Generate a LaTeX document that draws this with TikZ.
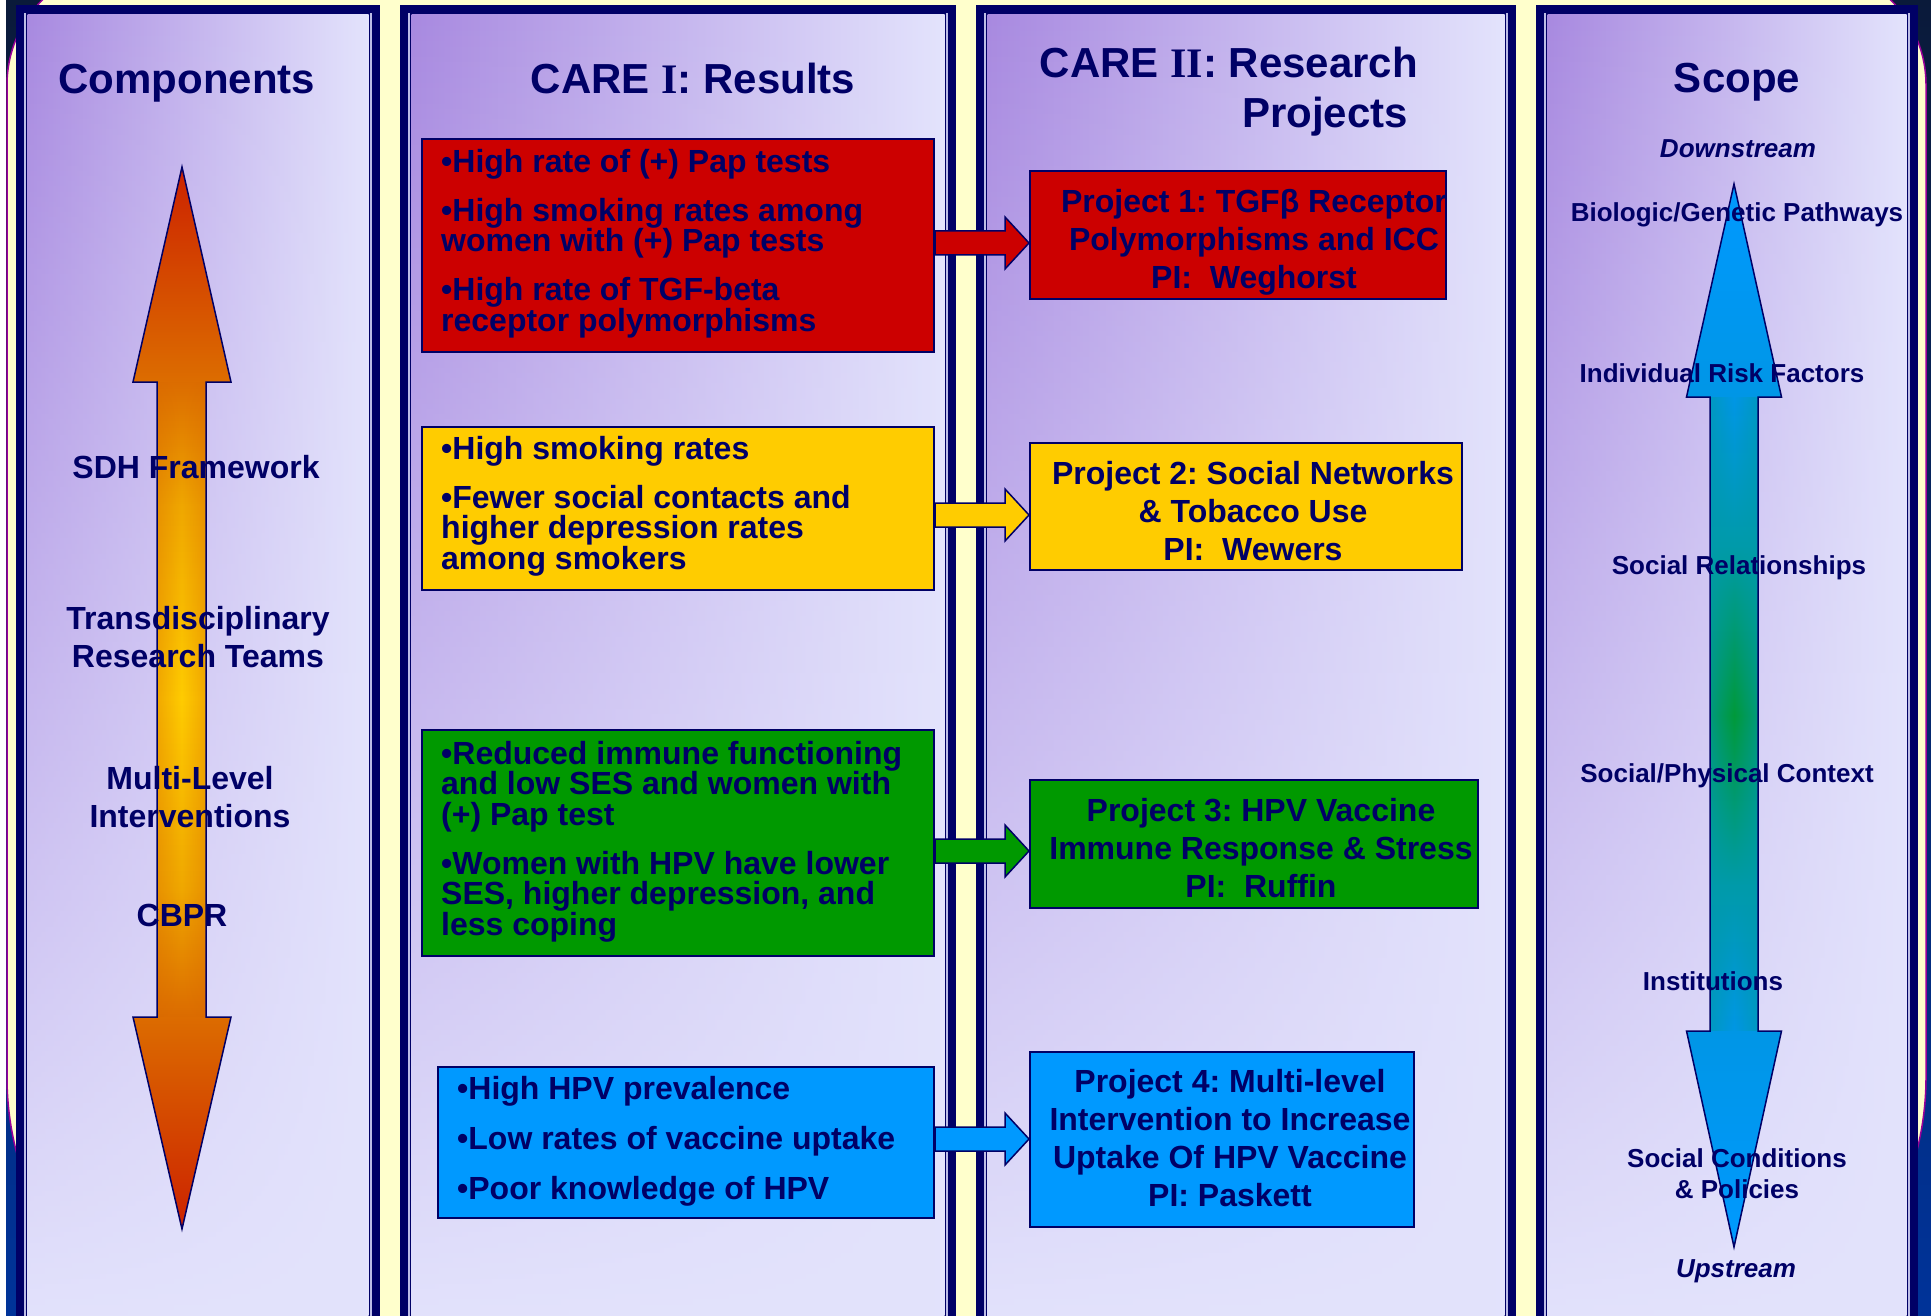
\documentclass[tikz,border=0pt]{standalone}
\usepackage{fontspec}
\setmainfont{Liberation Sans}
\newfontfamily\serifb{Liberation Serif}
\usetikzlibrary{calc,fadings}
\definecolor{navy}{HTML}{000066}
\definecolor{purp}{HTML}{A889E0}
\definecolor{lav}{HTML}{E3E3FC}
\definecolor{lightline}{HTML}{BDBDE6}
\definecolor{cred}{HTML}{CC0000}
\definecolor{cyel}{HTML}{FFCC00}
\definecolor{cgrn}{HTML}{009900}
\definecolor{cblu}{HTML}{0099FF}
\definecolor{bgyellow}{HTML}{FFFFCC}
\definecolor{bgmag}{HTML}{990099}
\definecolor{bgdark}{HTML}{0A1A3A}
\definecolor{bgblue}{HTML}{003399}
\definecolor{ored}{HTML}{CC2200}
\definecolor{oorg}{HTML}{DC6C00}
\definecolor{omid}{HTML}{F0A800}
\definecolor{oyel}{HTML}{FFCC00}
\definecolor{oedge}{HTML}{D86800}
\definecolor{bblue}{HTML}{0099FF}
\definecolor{bblue2}{HTML}{0096E6}
\definecolor{bteal}{HTML}{009AAA}
\definecolor{bgreen}{HTML}{00993A}
\definecolor{bedge}{HTML}{009AAA}
\tikzfading[name=fadedown, top color=transparent!100, bottom color=transparent!0]
\tikzfading[name=edgefade, left color=transparent!0, right color=transparent!0, middle color=transparent!100]
\pgfdeclareverticalshading{orangearrow}{100bp}{color(0bp)=(ored); color(25bp)=(ored); color(35bp)=(oorg); color(41bp)=(omid); color(50bp)=(oyel); color(59bp)=(omid); color(65bp)=(oorg); color(75bp)=(ored); color(100bp)=(ored)}
\pgfdeclareverticalshading{bluearrow}{100bp}{color(0bp)=(bblue); color(25bp)=(bblue); color(35bp)=(bblue2); color(42bp)=(bteal); color(50bp)=(bgreen); color(58bp)=(bteal); color(65bp)=(bblue2); color(75bp)=(bblue); color(100bp)=(bblue)}
\lineskiplimit=-20pt
\frenchspacing
\newcommand\firstl{\rule{0pt}{25pt}}
\newcommand\firsts{\rule{0pt}{21pt}}
\newcommand\panelbox[2]{%
  \fill[navy] (#1,5) rectangle (#2,1330);
  \fill[lightline] (#1+8,13) rectangle (#2-8,1330);
  \fill[navy] (#1+10,13) rectangle (#2-10,1330);
  \shade[left color=purp, right color=lav] (#1+11.5,15) rectangle (#2-11.5,1330);
  \fill[lav, path fading=fadedown] (#1+11.5,15) rectangle (#2-11.5,1330);
}
\newcommand\blockarr[4]{%
  \coordinate (#1s) at (#1.east |- 0,#3);
  \coordinate (#1t) at (#2.west |- 0,#3);
  \filldraw[fill=#4, draw=navy, line width=1.5] ($(#1s)+(0,-12)$) -- ($(#1t)+(-24,-12)$) -- ($(#1t)+(-24,-26)$) -- (#1t) -- ($(#1t)+(-24,26)$) -- ($(#1t)+(-24,12)$) -- ($(#1s)+(0,12)$) -- cycle;
}
\begin{document}
\frenchspacing
\begin{tikzpicture}[x=1pt,y=-1pt,
  ttl/.style={text=navy, font=\bfseries\fontsize{42}{48}\selectfont, inner sep=0, anchor=base},
  lbl/.style={text=navy, font=\bfseries\fontsize{32}{38}\selectfont, inner sep=0, align=center},
  scl/.style={text=navy, font=\bfseries\fontsize{26}{31}\selectfont, inner sep=0, align=center},
  boxtxt/.style={text=navy, font=\bfseries\fontsize{32}{30.5}\selectfont, inner sep=0, align=left, anchor=north west},
  projtxt/.style={text=navy, font=\bfseries\fontsize{32}{38}\selectfont, inner sep=0, align=center, anchor=north},
  cbox/.style={draw=navy, line width=2, inner sep=0}
]
\useasboundingbox (0,0) rectangle (1931,1316);
\clip (0,0) rectangle (1931,1316);
% slide background
\fill[white] (0,0) rectangle (1931,1316);
\shade[top color=bgdark, bottom color=bgblue] (6,0) rectangle (1931,1316);
\filldraw[fill=bgyellow, draw=bgmag, line width=1.5] (7,700) [rounded corners=120] -- (7,-35) -- (1926,-35) -- (1926,700) [rounded corners=300] -- (1926,1377) -- (7,1377) -- cycle;
% panels
\panelbox{16}{380}
\panelbox{400}{956}
\panelbox{976}{1516}
\panelbox{1536}{1918}
% titles
\node[ttl] (tcomp) at (187,94) {Components};
\node[ttl] (tcare1) at (693,94) {CARE {\serifb I}: Results};
\node[ttl] (tcare2a) at (1229,78) {CARE {\serifb II}: Research};
\node[ttl] (tcare2b) at (1325,128) {Projects};
\node[ttl] (tscope) at (1737,93) {Scope};
% orange double arrow
\shade[shading=orangearrow] (182,167) -- (231,382) -- (206,382) -- (206,1017) -- (231,1017) -- (182,1229) -- (133,1017) -- (157,1017) -- (157,382) -- (133,382) -- cycle;
\fill[oedge, opacity=0.35, path fading=edgefade] (157,382) rectangle (206,1017);
\draw[navy, line width=1.5] (182,167) -- (231,382) -- (206,382) -- (206,1017) -- (231,1017) -- (182,1229) -- (133,1017) -- (157,1017) -- (157,382) -- (133,382) -- cycle;
% blue double arrow
\shade[shading=bluearrow] (1734,184) -- (1781.5,397) -- (1758,397) -- (1758,1031) -- (1781.5,1031) -- (1734,1247) -- (1686.5,1031) -- (1710,1031) -- (1710,397) -- (1686.5,397) -- cycle;
\fill[bedge, opacity=0.6, path fading=edgefade] (1710,397) rectangle (1758,1031);
\draw[navy, line width=1.5] (1734,184) -- (1781.5,397) -- (1758,397) -- (1758,1031) -- (1781.5,1031) -- (1734,1247) -- (1686.5,1031) -- (1710,1031) -- (1710,397) -- (1686.5,397) -- cycle;
% components labels
\node[lbl, anchor=base] (sdh) at (196,478) {SDH Framework};
\node[lbl, anchor=north] (trans) at (198,604) {\firstl Transdisciplinary\\Research Teams};
\node[lbl, anchor=north] (mlev) at (190,764) {\firstl Multi-Level\\Interventions};
\node[lbl, anchor=base] (cbpr) at (182,926) {CBPR};
% scope labels
\node[scl, anchor=base] (down) at (1738,158) {\itshape Downstream};
\node[scl, anchor=base] (bio) at (1737,222) {Biologic/Genetic Pathways};
\node[scl, anchor=base] (ind) at (1722,382) {Individual Risk Factors};
\node[scl, anchor=base] (socrel) at (1739,574) {Social Relationships};
\node[scl, anchor=base] (socphy) at (1727,782) {Social/Physical Context};
\node[scl, anchor=base] (inst) at (1713,990) {Institutions};
\node[scl, anchor=north] (soccond) at (1737,1146) {\firsts Social Conditions\\\& Policies};
\node[scl, anchor=base] (up) at (1736,1277) {\itshape Upstream};
% result boxes
\node[cbox, fill=cred, minimum width=512, minimum height=213] (r1) at (678,245.5) {};
\node[cbox, fill=cyel, minimum width=512, minimum height=163] (y1) at (678,508.5) {};
\node[cbox, fill=cgrn, minimum width=512, minimum height=226] (g1) at (678,843) {};
\node[cbox, fill=cblu, minimum width=496, minimum height=151] (b1) at (686,1142.5) {};
\node[boxtxt] (r1t) at (441,147) {\firstl•High rate of (+) Pap tests\\[18.5pt]•High smoking rates among\\women with (+) Pap tests\\[18.5pt]•High rate of TGF-beta\\receptor polymorphisms};
\node[boxtxt] (y1t) at (441,434) {\firstl•High smoking rates\\[18.5pt]•Fewer social contacts and\\higher depression rates\\among smokers};
\node[boxtxt] (g1t) at (441,739) {\firstl•Reduced immune functioning\\and low SES and women with\\(+) Pap test\\[18.5pt]•Women with HPV have lower\\SES, higher depression, and\\less coping};
\node[boxtxt] (b1t) at (457,1074) {\firstl•High HPV prevalence\\[19.5pt]•Low rates of vaccine uptake\\[19.5pt]•Poor knowledge of HPV};
% project boxes
\node[cbox, fill=cred, minimum width=416, minimum height=128] (p1) at (1238,235) {};
\node[cbox, fill=cyel, minimum width=432, minimum height=127] (p2) at (1246,506.5) {};
\node[cbox, fill=cgrn, minimum width=448, minimum height=128] (p3) at (1254,844) {};
\node[cbox, fill=cblu, minimum width=384, minimum height=175] (p4) at (1222,1139.5) {};
\node[projtxt] (p1t) at (1254,187) {\firstl Project 1: TGFβ Receptor\\Polymorphisms and ICC\\PI:\ \ Weghorst};
\node[projtxt] (p2t) at (1253,459) {\firstl Project 2: Social Networks\\\& Tobacco Use\\PI:\ \ Wewers};
\node[projtxt] (p3t) at (1261,796) {\firstl Project 3: HPV Vaccine\\Immune Response \& Stress\\PI:\ \ Ruffin};
\node[projtxt] (p4t) at (1230,1067) {\firstl Project 4: Multi-level\\Intervention to Increase\\Uptake Of HPV Vaccine\\PI: Paskett};
% block arrows
\blockarr{r1}{p1}{243}{cred}
\blockarr{y1}{p2}{515}{cyel}
\blockarr{g1}{p3}{851}{cgrn}
\blockarr{b1}{p4}{1139}{cblu}
\end{tikzpicture}
\end{document}
